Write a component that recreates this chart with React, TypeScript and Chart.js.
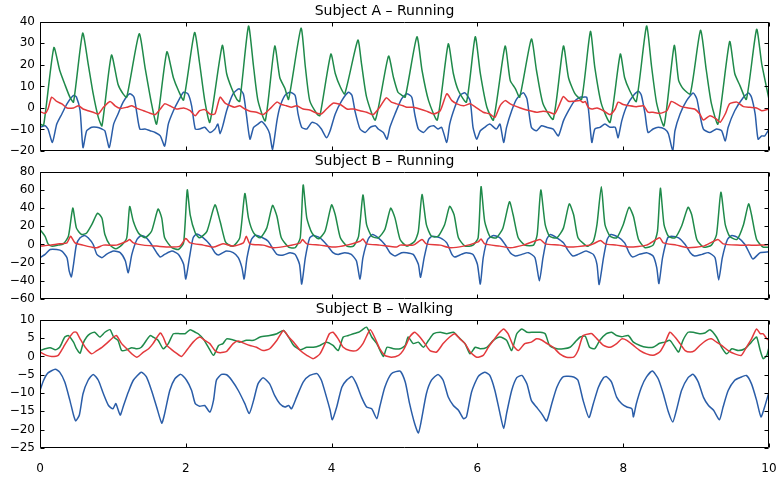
import React, { useEffect, useRef } from "react";
import { Chart, registerables } from "chart.js";

Chart.register(...registerables);

// ---------- data: [time (s), value] ----------
const xTicks = [0, 2, 4, 6, 8, 10];
const panelTitles = ["Subject A – Running", "Subject B – Running", "Subject B – Walking"];
const yRangeA = [-20, 40, 10];
const yRangeBRun = [-60, 80, 20];
const yRangeBWalk = [-25, 10, 5];

const aRunBlue = [[0,-9],[0.07,-8.3],[0.11,-9.8],[0.17,-16],[0.23,-7.5],[0.3,-2.8],[0.37,1.9],[0.46,5.8],[0.5,5],[0.55,-1.3],[0.59,-18.4],[0.64,-10.6],[0.71,-9],[0.78,-9],[0.85,-9.8],[0.89,-10.6],[0.95,-18.4],[1.01,-7.5],[1.07,-2.8],[1.14,2.7],[1.23,6.6],[1.29,5],[1.33,-2.8],[1.37,-9.8],[1.44,-9.8],[1.51,-10.6],[1.58,-11.4],[1.65,-13],[1.71,-17.7],[1.76,-7.5],[1.83,-1.3],[1.9,3.4],[1.97,7.3],[2.03,6.5],[2.08,1],[2.13,-9.8],[2.19,-9.8],[2.26,-9],[2.33,-11.4],[2.4,-9.8],[2.44,-7.5],[2.47,-12],[2.51,-8],[2.56,-1.3],[2.65,6.6],[2.73,8.9],[2.79,6.5],[2.83,-2.8],[2.88,-14.5],[2.93,-9],[2.99,-7.5],[3.04,-6.3],[3.11,-9],[3.15,-12],[3.19,-19.2],[3.25,-6],[3.29,0.3],[3.36,5.8],[3.43,7.3],[3.5,5.8],[3.54,-2.8],[3.59,-9],[3.66,-9.8],[3.73,-6.7],[3.8,-7.5],[3.86,-9.8],[3.93,-13.8],[3.98,-10.6],[4.05,-2.8],[4.14,3.4],[4.23,7.3],[4.28,5.8],[4.32,-1.3],[4.39,-9.8],[4.46,-11.4],[4.53,-9],[4.6,-8.3],[4.64,-9.8],[4.71,-11.4],[4.76,-14.5],[4.8,-9],[4.87,-2.8],[4.96,4.2],[5.03,6.6],[5.1,5],[5.14,-2.8],[5.19,-9.8],[5.26,-11.4],[5.33,-9],[5.4,-8.3],[5.46,-9.8],[5.51,-9],[5.58,-16],[5.62,-7.5],[5.69,0.3],[5.76,5.8],[5.83,7],[5.9,3.4],[5.94,-9],[5.99,-14.5],[6.04,-10.6],[6.1,-9],[6.17,-7.5],[6.26,-9.8],[6.31,-7.5],[6.36,-16],[6.4,-9],[6.47,-1.3],[6.54,4.2],[6.63,7],[6.68,4.2],[6.74,-9],[6.81,-10.6],[6.88,-8.3],[6.95,-9],[7.04,-9.8],[7.11,-13],[7.18,-6],[7.25,-1.3],[7.32,2.7],[7.41,5],[7.45,5],[7.5,5],[7.53,-2.8],[7.57,-16],[7.61,-9.8],[7.68,-9],[7.75,-7.5],[7.82,-9],[7.89,-9],[7.93,-13.8],[7.98,-6],[8.05,1],[8.14,5.8],[8.21,7.8],[8.25,5.8],[8.3,-2.8],[8.34,-11.4],[8.41,-9.8],[8.48,-9],[8.57,-9.8],[8.62,-12],[8.68,-20],[8.71,-10.6],[8.78,-2.8],[8.87,3.4],[8.96,6.9],[9.01,4.2],[9.05,-2.8],[9.1,-9.8],[9.19,-11.4],[9.28,-9.8],[9.35,-10.6],[9.4,-15.3],[9.44,-9],[9.53,-1.3],[9.65,5],[9.72,6.9],[9.76,5],[9.81,-2.8],[9.85,-14.5],[9.9,-13],[9.94,-13],[10,-9.8]];

const aRunGreen = [[0,-7.5],[0.05,-8],[0.19,28],[0.27,17.5],[0.34,11],[0.41,5],[0.46,2.7],[0.585,34.7],[0.66,20.6],[0.73,6.5],[0.8,-4.4],[0.85,-8.3],[0.98,24.5],[1.07,11],[1.14,6.5],[1.19,5],[1.36,34.4],[1.44,19],[1.53,2],[1.6,-7.5],[1.74,26],[1.83,14],[1.9,8],[1.97,3.7],[2.12,35],[2.19,20.6],[2.26,3.4],[2.33,-6.7],[2.5,29],[2.56,16],[2.63,9],[2.7,4],[2.74,3],[2.86,38],[2.93,19],[2.99,3.4],[3.09,-6],[3.22,28.7],[3.29,14],[3.36,9],[3.41,4],[3.58,37],[3.64,19],[3.7,3.4],[3.8,-2.8],[3.84,-3.6],[3.99,25],[4.05,16],[4.12,9.7],[4.18,6.5],[4.36,31.5],[4.41,20.6],[4.48,5],[4.6,-5.6],[4.78,24],[4.85,14],[4.91,7.3],[4.96,6],[5.01,5],[5.17,33],[5.24,17.5],[5.33,3.4],[5.45,-5.6],[5.6,29.7],[5.67,16],[5.74,8],[5.85,2.7],[5.97,33],[6.04,16],[6.13,0.3],[6.22,-5.6],[6.38,28.7],[6.45,12.8],[6.52,9],[6.58,5],[6.74,32],[6.81,17.5],[6.9,1.9],[7.04,-5.2],[7.18,28.7],[7.25,14],[7.34,6.5],[7.43,4],[7.55,35.5],[7.61,19],[7.7,2],[7.82,-6.7],[7.96,25],[8.02,14],[8.09,8],[8.18,3],[8.32,38],[8.39,19],[8.46,2],[8.56,-8.3],[8.7,29],[8.76,12.8],[8.82,9],[8.92,6.5],[9.06,36],[9.14,17.5],[9.21,2],[9.3,-7.5],[9.46,30.8],[9.53,16],[9.6,10.5],[9.69,4],[9.83,36.5],[9.9,20.6],[10,4]];

const aRunRed = [[0,-1.7],[0.07,-2.5],[0.11,-0.5],[0.16,5],[0.23,3],[0.3,1.9],[0.37,0],[0.46,0],[0.53,1],[0.59,-0.5],[0.66,-1.3],[0.73,-2],[0.8,-2.8],[0.87,0.3],[0.96,3],[1.03,1],[1.1,-0.2],[1.19,0.3],[1.26,1],[1.33,-0.2],[1.42,-1.3],[1.51,-2.5],[1.58,-3.1],[1.65,-0.5],[1.71,1.9],[1.78,1],[1.87,-0.5],[1.97,0],[2.06,-1.3],[2.13,-3.6],[2.19,-1.3],[2.26,-0.8],[2.33,-2.8],[2.4,-2.8],[2.47,5],[2.54,2.2],[2.61,1],[2.67,0.3],[2.74,1],[2.81,-0.5],[2.88,-1.5],[2.97,-2],[3.06,-3.1],[3.15,-0.5],[3.25,2.7],[3.31,1.6],[3.38,1],[3.45,0.3],[3.52,1],[3.61,-0.5],[3.7,-1],[3.8,-2.5],[3.86,-2.8],[3.93,-0.5],[4.02,2.2],[4.12,1.6],[4.21,-0.5],[4.3,-0.5],[4.39,-1.3],[4.48,-2],[4.57,-3.1],[4.66,0.3],[4.75,4.7],[4.82,2.7],[4.89,1.9],[4.98,1],[5.03,0.3],[5.12,0.3],[5.21,-0.5],[5.3,-1.5],[5.4,-2.8],[5.49,-1.3],[5.58,6.6],[5.65,3.4],[5.72,1.9],[5.81,1],[5.9,1.9],[5.99,0],[6.08,-2],[6.17,-2.8],[6.24,-4.4],[6.31,1],[6.38,3.4],[6.45,1.9],[6.54,0.6],[6.63,-0.5],[6.72,-1.3],[6.81,-2],[6.9,-1.5],[6.99,-2],[7.06,-2.8],[7.13,1.9],[7.18,5.3],[7.25,3.1],[7.32,3.1],[7.41,3.4],[7.45,2.5],[7.48,3],[7.52,0.3],[7.57,-0.5],[7.64,0],[7.73,-1.3],[7.82,-3.1],[7.89,-0.5],[7.93,2.7],[8,1.6],[8.09,1],[8.18,0.6],[8.28,1],[8.34,-2],[8.41,-2],[8.5,-2.5],[8.6,-1.3],[8.66,3],[8.73,1.9],[8.8,0.6],[8.89,0],[8.98,-0.5],[9.05,-2.8],[9.1,-5.6],[9.19,-3.6],[9.28,-5.2],[9.33,-6.7],[9.4,-2.8],[9.46,1.9],[9.56,2.7],[9.65,0.6],[9.74,0.3],[9.83,0],[9.9,-1.3],[10,-0.5]];

const bRunBlue = [[0,-14.5],[0.07,-10.9],[0.14,-5.5],[0.23,-5.5],[0.3,-7.3],[0.37,-14.5],[0.4,-29],[0.43,-35.6],[0.46,-21.8],[0.5,0],[0.55,7.3],[0.61,10],[0.66,7.3],[0.73,0],[0.78,-10.9],[0.85,-14.5],[0.91,-10.9],[1.01,-7.3],[1.1,-9],[1.17,-18],[1.21,-31],[1.26,-10.9],[1.33,5.5],[1.39,10],[1.46,7.3],[1.53,0],[1.6,-9],[1.65,-13.8],[1.71,-10.9],[1.81,-7.3],[1.9,-10.9],[1.97,-21.8],[2,-38],[2.05,-14.5],[2.1,7.3],[2.15,11.6],[2.24,7.3],[2.33,0],[2.4,-9],[2.45,-11.6],[2.51,-9],[2.56,-7.3],[2.65,-9],[2.72,-14.5],[2.77,-25.5],[2.8,-38],[2.84,-14.5],[2.9,5.5],[2.95,10],[3.04,8],[3.13,3.6],[3.2,-5.5],[3.25,-10.9],[3.34,-11.6],[3.43,-9],[3.5,-10.9],[3.56,-21.8],[3.59,-43.6],[3.64,-14.5],[3.7,7.3],[3.75,10],[3.84,7.3],[3.93,0],[4.02,-9],[4.09,-10.9],[4.18,-9],[4.27,-10.9],[4.34,-18],[4.39,-38],[4.43,-14.5],[4.5,5.5],[4.56,11],[4.64,7.3],[4.73,0],[4.8,-9],[4.87,-12.7],[4.96,-9],[5.03,-9],[5.12,-10.9],[5.19,-21.8],[5.22,-36],[5.27,-14.5],[5.33,5.5],[5.38,9],[5.49,7.3],[5.58,1.8],[5.65,-10.9],[5.69,-13.8],[5.78,-10.9],[5.85,-9],[5.94,-10.9],[6,-21.8],[6.04,-43.6],[6.08,-14.5],[6.14,5.5],[6.22,10],[6.31,7.3],[6.38,0],[6.45,-9],[6.52,-12.7],[6.61,-10.9],[6.7,-9],[6.79,-14.5],[6.85,-40],[6.9,-14.5],[6.95,5.5],[7,11],[7.09,7.3],[7.18,1.8],[7.25,-7.3],[7.31,-12.7],[7.38,-10.9],[7.48,-7.3],[7.5,-7.3],[7.59,-10.9],[7.64,-21.8],[7.67,-44],[7.73,-14.5],[7.78,5.5],[7.83,11],[7.93,8],[8.02,1.8],[8.08,-9],[8.13,-13.8],[8.22,-10.9],[8.32,-9],[8.41,-12.7],[8.46,-25.5],[8.49,-43],[8.54,-14.5],[8.61,7.3],[8.66,9],[8.76,7.3],[8.85,0],[8.92,-9],[8.98,-12.7],[9.08,-10.9],[9.17,-9],[9.26,-14.5],[9.31,-39],[9.36,-14.5],[9.43,5.5],[9.49,10],[9.58,7.3],[9.67,0],[9.74,-10.9],[9.78,-16],[9.88,-9],[10,-8]];

const bRunGreen = [[0,16.4],[0.07,9],[0.11,0.7],[0.16,-1.8],[0.25,-0.7],[0.32,0.7],[0.39,9],[0.45,40],[0.5,18],[0.57,11],[0.64,12.7],[0.71,21.8],[0.79,34.5],[0.85,29],[0.89,10.9],[0.96,-0.7],[1.04,-4.7],[1.12,-0.7],[1.19,7.3],[1.23,41.8],[1.28,25.5],[1.35,12.7],[1.44,7.3],[1.53,14.5],[1.62,39],[1.67,29],[1.71,7.3],[1.81,-3.6],[1.9,-5.5],[1.97,1.8],[2.02,60],[2.06,32.7],[2.13,12.7],[2.19,7.3],[2.29,14.5],[2.4,43.6],[2.47,25.5],[2.54,3.6],[2.58,0],[2.65,-1.8],[2.74,7.3],[2.81,56],[2.86,29],[2.93,12.7],[3.02,7.3],[3.11,18],[3.19,43],[3.25,31],[3.31,7.3],[3.41,-2.9],[3.5,-3.6],[3.57,7.3],[3.61,65.5],[3.66,29],[3.73,12.7],[3.82,6.2],[3.91,14.5],[4,43.6],[4.05,32.7],[4.12,7.3],[4.21,-1.8],[4.3,-1.8],[4.37,9],[4.43,54.5],[4.48,21.8],[4.55,9],[4.64,7.3],[4.73,16.4],[4.81,40],[4.87,29],[4.94,5.5],[5.03,-1.8],[5.14,3.6],[5.19,14.5],[5.24,55],[5.3,21.8],[5.37,9],[5.46,9],[5.55,21.8],[5.62,42],[5.68,32.7],[5.74,7.3],[5.83,-1.8],[5.94,-0.7],[6.01,7.3],[6.05,63.6],[6.1,25.5],[6.17,9],[6.26,7.3],[6.35,18],[6.44,47],[6.49,32.7],[6.56,7.3],[6.65,-0.7],[6.77,-0.7],[6.82,10.9],[6.87,60],[6.93,21.8],[6.99,9],[7.09,7.3],[7.18,18],[7.26,44.7],[7.32,32.7],[7.38,7.3],[7.48,-0.7],[7.52,-1.8],[7.59,3.6],[7.64,21.8],[7.7,63.6],[7.75,21.8],[7.82,9],[7.91,7.3],[8,21.8],[8.08,41],[8.14,31],[8.21,5.5],[8.3,-3.6],[8.41,-0.7],[8.47,14.5],[8.51,62],[8.56,21.8],[8.62,9],[8.71,7.3],[8.8,20],[8.89,41],[8.94,32.7],[9.01,5.5],[9.1,-2.9],[9.21,-0.7],[9.28,10.9],[9.34,57.5],[9.4,21.8],[9.46,9],[9.56,5.5],[9.65,21.8],[9.72,44.7],[9.76,32.7],[9.83,5.5],[9.92,-2.9],[10,-2.9]];

const bRunRed = [[0,-1.8],[0.14,-0.7],[0.27,0.7],[0.37,1.8],[0.42,9],[0.48,1.8],[0.59,-0.7],[0.71,-2.9],[0.78,-3.6],[0.87,-0.7],[1.05,-0.7],[1.19,3.6],[1.23,5.5],[1.28,1.8],[1.42,-0.7],[1.6,-1.8],[1.78,-2.9],[1.92,-1.8],[2,6.5],[2.06,1.8],[2.24,-0.7],[2.38,-2.9],[2.51,0.7],[2.65,-1.8],[2.79,1.8],[2.83,9],[2.88,0.7],[3.06,-0.7],[3.2,-3.6],[3.38,-1.8],[3.57,1.8],[3.6,5.5],[3.66,0.7],[3.84,-0.7],[4.02,-2.9],[4.21,-0.7],[4.39,3.6],[4.43,6],[4.48,0.7],[4.66,-0.7],[4.89,-2.9],[4.94,-0.7],[5.12,-0.7],[5.24,5.5],[5.3,0.7],[5.49,-0.7],[5.62,-3.6],[5.81,-1.8],[6.01,2.9],[6.05,6],[6.1,0.7],[6.31,-1.8],[6.45,-3.6],[6.63,-0.7],[6.86,5.5],[6.93,0.7],[7.13,-0.7],[7.27,-2.9],[7.54,-0.7],[7.59,0.7],[7.69,4.4],[7.75,0.7],[7.91,-0.7],[8.09,-2.9],[8.32,-0.7],[8.5,7.3],[8.55,1.8],[8.73,-0.7],[8.89,-3.6],[9.1,-1.8],[9.3,5.5],[9.37,0.7],[9.56,-0.7],[9.72,-0.7],[9.88,-0.7],[10,0]];

const bWalkBlue = [[0,-9.3],[0.05,-6.5],[0.11,-4.5],[0.21,-3.5],[0.27,-4.3],[0.34,-7],[0.41,-12],[0.46,-16],[0.49,-17.6],[0.54,-16],[0.59,-10.2],[0.66,-6.5],[0.73,-4.9],[0.8,-6.5],[0.87,-10.2],[0.94,-13.4],[1,-14.3],[1.04,-12.9],[1.1,-16],[1.14,-13.8],[1.21,-9.8],[1.28,-6.5],[1.39,-4.3],[1.46,-5.6],[1.53,-9.3],[1.6,-13.8],[1.67,-18.2],[1.71,-15.6],[1.78,-9.3],[1.85,-6.1],[1.93,-4.9],[2.01,-6.5],[2.08,-9.3],[2.13,-12.9],[2.19,-13.6],[2.26,-13.4],[2.33,-15.2],[2.38,-12],[2.42,-6.5],[2.49,-4.9],[2.56,-5],[2.63,-6.5],[2.72,-9.3],[2.81,-12.9],[2.87,-15.6],[2.93,-12],[2.99,-7.5],[3.06,-5.8],[3.15,-7.5],[3.22,-10.7],[3.29,-12.9],[3.36,-13.8],[3.41,-13.4],[3.45,-14.3],[3.52,-11.1],[3.61,-7],[3.7,-5.2],[3.8,-4.7],[3.86,-6.5],[3.93,-11.1],[3.98,-14.7],[4.01,-17.3],[4.07,-13.8],[4.14,-8.4],[4.21,-6.4],[4.28,-5.5],[4.34,-7.5],[4.41,-11.1],[4.48,-13.8],[4.55,-14.3],[4.62,-17],[4.66,-13.8],[4.73,-8.4],[4.82,-4.7],[4.94,-4],[5.01,-7],[5.07,-12.9],[5.14,-18.4],[5.19,-20.9],[5.23,-17.6],[5.3,-10.2],[5.37,-6.5],[5.46,-4.9],[5.53,-6.5],[5.6,-11.1],[5.67,-13.4],[5.74,-14.7],[5.81,-17],[5.85,-16.5],[5.92,-9.7],[6.01,-5.5],[6.1,-4.3],[6.17,-5.2],[6.24,-9.3],[6.31,-15.6],[6.36,-19.7],[6.4,-15.6],[6.47,-9.3],[6.54,-5.8],[6.61,-5.2],[6.68,-7.5],[6.74,-12],[6.81,-13.8],[6.88,-15.6],[6.95,-17.6],[7.02,-12.9],[7.09,-8.4],[7.18,-5.5],[7.32,-5.6],[7.38,-6.5],[7.45,-12],[7.53,-16.7],[7.59,-12.9],[7.66,-8.4],[7.73,-5.8],[7.77,-5.5],[7.84,-7],[7.91,-11.1],[7.98,-12.9],[8.05,-13.8],[8.12,-14.3],[8.14,-16.5],[8.18,-12.9],[8.25,-8.4],[8.32,-5.6],[8.4,-4],[8.48,-6.1],[8.55,-10.2],[8.62,-15.2],[8.68,-17.9],[8.73,-14.7],[8.8,-9.3],[8.89,-5.8],[8.96,-4.9],[9.03,-7],[9.1,-11.1],[9.17,-13.4],[9.24,-14.7],[9.32,-17.3],[9.37,-13.8],[9.44,-9.3],[9.53,-6.5],[9.6,-5.8],[9.69,-5.2],[9.76,-7.5],[9.83,-12],[9.89,-16.5],[9.94,-13.8],[10,-9.7]];

const bWalkGreen = [[0,1.6],[0.07,2.1],[0.14,2.4],[0.21,1.8],[0.27,2.5],[0.34,5.3],[0.39,5.7],[0.46,3.9],[0.5,2.1],[0.55,0.9],[0.59,3.5],[0.64,5.3],[0.69,6.2],[0.75,6.6],[0.82,5.3],[0.89,6.6],[0.96,7.3],[1.01,5.3],[1.07,4.4],[1.12,1.6],[1.19,1.8],[1.26,2.4],[1.33,2.1],[1.39,2.5],[1.46,4.4],[1.51,5.7],[1.55,5.3],[1.62,4.4],[1.69,2.1],[1.76,3.5],[1.83,6.2],[1.92,6.2],[1.99,6.2],[2.06,7.3],[2.13,6.6],[2.17,6.2],[2.24,4.8],[2.31,2.5],[2.38,0.3],[2.45,3],[2.51,3.5],[2.56,4.8],[2.65,4.5],[2.74,3.9],[2.83,4.4],[2.93,4.4],[3.02,5.3],[3.15,5.7],[3.25,6.2],[3.34,7.1],[3.41,5.3],[3.48,3],[3.57,1.8],[3.66,2.5],[3.75,2.5],[3.84,3],[3.93,3.9],[4.02,3],[4.09,1.6],[4.16,5.3],[4.23,5.7],[4.3,6.2],[4.37,6.6],[4.41,7.1],[4.48,8],[4.55,5.3],[4.62,3.5],[4.71,0],[4.76,2.5],[4.85,2.1],[4.94,2.1],[5.01,3],[5.05,5.3],[5.12,3.5],[5.19,3.9],[5.26,2.5],[5.33,4.4],[5.4,6.2],[5.49,6.6],[5.58,6.2],[5.67,6.6],[5.74,5.3],[5.83,3.5],[5.9,0.7],[5.97,2.5],[6.04,2.1],[6.13,2.5],[6.22,4.4],[6.31,5.3],[6.4,4.4],[6.47,1.6],[6.54,6.2],[6.61,7.5],[6.68,6.6],[6.77,6.6],[6.86,6.6],[6.93,6.2],[6.99,3],[7.09,2.1],[7.18,2.1],[7.27,2.5],[7.34,3.9],[7.41,5.3],[7.48,5.5],[7.54,2.5],[7.61,2.1],[7.68,4.4],[7.77,6.2],[7.84,6.6],[7.91,5.7],[7.98,5.4],[8.07,5.7],[8.14,3.9],[8.23,3],[8.32,2.5],[8.41,2.5],[8.5,3.6],[8.57,3.9],[8.64,4.4],[8.71,2.5],[8.76,1.2],[8.82,4.4],[8.89,6.6],[8.96,6.6],[9.05,6.2],[9.12,6.4],[9.19,7.3],[9.28,5.3],[9.35,2.5],[9.42,0.7],[9.49,2.1],[9.58,1.6],[9.67,2.1],[9.74,3.5],[9.78,4.4],[9.83,5.3],[9.88,1.6],[9.92,-0.6],[9.97,0.3],[10,2.5]];

const bWalkRed = [[0,1.2],[0.09,0.3],[0.16,0],[0.25,0.3],[0.32,2.5],[0.39,4.8],[0.46,6.6],[0.5,6.6],[0.55,4.8],[0.62,2.5],[0.71,0.7],[0.78,1.6],[0.85,2.5],[0.91,3.5],[1.01,5.3],[1.05,5.7],[1.12,3.5],[1.19,2.1],[1.26,0.7],[1.33,-0.2],[1.42,1.2],[1.49,2.1],[1.55,3.5],[1.65,6.4],[1.69,5.3],[1.74,3],[1.81,1.8],[1.87,0.9],[1.94,0],[2.01,1.6],[2.1,3.9],[2.19,5.3],[2.26,4.4],[2.33,3.5],[2.4,1.6],[2.47,1],[2.56,1.4],[2.65,3.5],[2.72,4.2],[2.81,3.5],[2.88,3],[2.97,2.5],[3.06,1.6],[3.15,2.1],[3.25,4.4],[3.34,7.1],[3.41,5.3],[3.48,3.9],[3.57,1.6],[3.66,0.3],[3.75,-0.6],[3.84,0.7],[3.91,3.5],[3.97,6.2],[4.02,6.6],[4.09,4.8],[4.16,2.5],[4.25,1.6],[4.34,1.6],[4.43,3.5],[4.53,7.3],[4.6,4.8],[4.66,2.1],[4.73,0.3],[4.82,-0.2],[4.92,0.3],[4.98,1.6],[5.03,3.5],[5.07,5.3],[5.14,6.6],[5.21,5.3],[5.28,3.5],[5.35,1.6],[5.44,1.2],[5.53,3.5],[5.62,5.3],[5.69,6.2],[5.76,4.8],[5.83,3.5],[5.9,1.2],[5.99,-0.2],[6.08,0.3],[6.15,2.5],[6.22,4.4],[6.29,6.2],[6.36,7.5],[6.42,6.2],[6.49,3],[6.56,1.6],[6.65,3.5],[6.74,3.9],[6.81,4.8],[6.88,4.5],[6.95,3.6],[7.04,2.5],[7.13,0.7],[7.22,-0.2],[7.32,-0.2],[7.38,1.6],[7.45,5.7],[7.54,6.2],[7.57,6.2],[7.64,4.8],[7.73,3],[7.82,2.5],[7.91,3.5],[7.98,4.8],[8.05,4.4],[8.14,3],[8.23,1.6],[8.32,0.7],[8.41,0.3],[8.5,1.2],[8.57,3.5],[8.64,6.6],[8.71,5.3],[8.78,3.5],[8.85,1.6],[8.92,1.2],[8.98,1.6],[9.05,3],[9.14,4.4],[9.21,4.8],[9.28,3.9],[9.35,3],[9.44,1.6],[9.53,0.7],[9.62,0.3],[9.69,2.5],[9.76,4.8],[9.83,7.5],[9.88,6.2],[9.92,6.2],[9.97,4.8],[10,4.4]];

// ---------- styling ----------
const BLUE = "#2a5da8";
const GREEN = "#1f8a4a";
const RED = "#e3393c";
const FONT = "'DejaVu Sans', sans-serif";

const framePlugin = {
  id: "mplFrame",
  afterDatasetsDraw(chart: any) {
    const { ctx, chartArea: a, scales } = chart;
    ctx.save();
    ctx.strokeStyle = "#000";
    ctx.lineWidth = 1;
    const l = Math.round(a.left) + 0.5;
    const t = Math.round(a.top) + 0.5;
    const r = Math.round(a.right) - 0.5;
    const b = Math.round(a.bottom) - 0.5;
    ctx.beginPath();
    ctx.rect(l, t, r - l, b - t);
    const tl = 4;
    xTicks.forEach((v) => {
      const px = Math.round(scales.x.getPixelForValue(v)) + 0.5;
      ctx.moveTo(px, b);
      ctx.lineTo(px, b - tl);
      ctx.moveTo(px, t);
      ctx.lineTo(px, t + tl);
    });
    scales.y.ticks.forEach((tk: any) => {
      const py = Math.round(scales.y.getPixelForValue(tk.value)) + 0.5;
      ctx.moveTo(l, py);
      ctx.lineTo(l + tl, py);
      ctx.moveTo(r, py);
      ctx.lineTo(r - tl, py);
    });
    ctx.stroke();
    ctx.restore();
  },
};

function toXY(arr: number[][]) {
  return arr.map(([x, y]) => ({ x, y }));
}

type PanelSpec = {
  title: string;
  range: number[];
  blue: number[][];
  green: number[][];
  red: number[][];
  showX: boolean;
  top: number;
  height: number;
  padBottom: number;
};

const panels: PanelSpec[] = [
  { title: panelTitles[0], range: yRangeA, blue: aRunBlue, green: aRunGreen, red: aRunRed, showX: false, top: 0, height: 160, padBottom: 9 },
  { title: panelTitles[1], range: yRangeBRun, blue: bRunBlue, green: bRunGreen, red: bRunRed, showX: false, top: 150, height: 160, padBottom: 11 },
  { title: panelTitles[2], range: yRangeBWalk, blue: bWalkBlue, green: bWalkGreen, red: bWalkRed, showX: true, top: 298, height: 184, padBottom: 0 },
];

function fmt(v: number) {
  return String(v).replace("-", "\u2212");
}

function Panel({ spec }: { spec: PanelSpec }) {
  const ref = useRef<HTMLCanvasElement | null>(null);
  useEffect(() => {
    if (!ref.current) return;
    const ds = (data: number[][], color: string) => ({
      data: toXY(data),
      borderColor: color,
      backgroundColor: color,
      borderWidth: 1.5,
      pointRadius: 0,
      tension: 0.2,
      fill: false,
    });
    const chart = new Chart(ref.current, {
      type: "line",
      data: {
        datasets: [ds(spec.red, RED), ds(spec.green, GREEN), ds(spec.blue, BLUE)],
      },
      options: {
        animation: false,
        responsive: false,
        devicePixelRatio: 1,
        parsing: false as any,
        layout: { padding: { top: 2, bottom: spec.padBottom, left: 0, right: 12 } },
        plugins: {
          legend: { display: false },
          tooltip: { enabled: false },
          title: {
            display: true,
            text: spec.title,
            color: "#000",
            font: { family: FONT, size: 14, weight: "normal" as any, lineHeight: 1.2 },
            padding: { top: 1, bottom: 2 },
          },
        },
        scales: {
          x: {
            type: "linear",
            min: 0,
            max: 10,
            display: true,
            grid: { display: false, drawTicks: false },
            border: { display: false },
            ticks: {
              display: spec.showX,
              stepSize: 2,
              color: "#000",
              font: { family: FONT, size: 12 },
              padding: 14,
              maxRotation: 0,
              callback: (v: any) => fmt(v),
            },
            afterFit: (s: any) => {
              s.height = spec.showX ? 34 : 0;
              s.paddingLeft = 0;
              s.paddingRight = 0;
            },
          },
          y: {
            type: "linear",
            min: spec.range[0],
            max: spec.range[1],
            grid: { display: false, drawTicks: false },
            border: { display: false },
            ticks: {
              stepSize: spec.range[2],
              color: "#000",
              font: { family: FONT, size: 12 },
              padding: 5,
              callback: (v: any) => fmt(v),
            },
            afterFit: (s: any) => {
              s.width = 40;
              s.paddingTop = 0;
              s.paddingBottom = 0;
            },
          },
        },
      },
      plugins: [framePlugin],
    } as any);
    return () => chart.destroy();
  }, [spec]);
  return (
    <canvas
      ref={ref}
      width={781}
      height={spec.height}
      style={{ position: "absolute", left: 0, top: spec.top, width: 781, height: spec.height }}
    />
  );
}

export default function App() {
  return (
    <div style={{ position: "absolute", left: 0, top: 0, width: 781, height: 482, background: "#fff" }}>
      {panels.map((p, i) => (
        <Panel key={i} spec={p} />
      ))}
    </div>
  );
}
